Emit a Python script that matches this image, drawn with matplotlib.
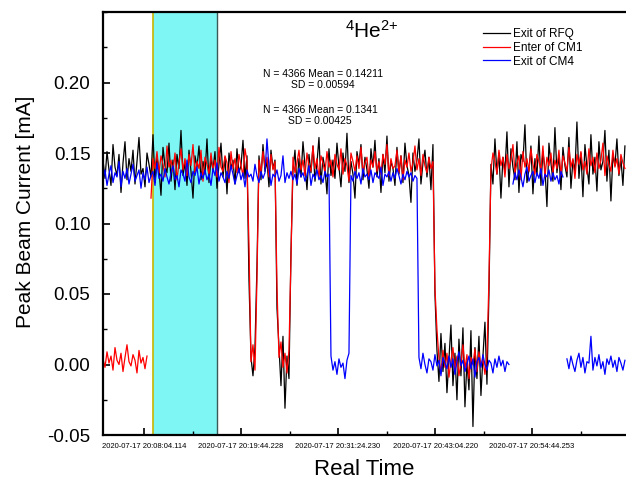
import numpy as np
import matplotlib
matplotlib.use("Agg")
import matplotlib.pyplot as plt
from matplotlib.ticker import MultipleLocator, FixedLocator

plt.rcParams['font.family'] = ['Liberation Sans', 'DejaVu Sans']

# time axis: seconds relative to 2020-07-17 20:08:04.114, one sample every dt seconds
t0 = -296.0
dt = 14.43
tick_times = [0, 700, 1400, 2100, 2800]
tick_labels = ["2020-07-17 20:08:04.114", "2020-07-17 20:19:44.228",
               "2020-07-17 20:31:24.230", "2020-07-17 20:43:04.220",
               "2020-07-17 20:54:44.253"]
window_start = 62.0     # shaded interval used for the statistics
window_end = 527.0

# peak beam current in uA (1e-3 mA), None = no reading
exit_rfq = [
    145, 132, 151, 138, 127, 156, 140, 134, 149, 122, 143, 158, 131, 146, 137, 152, 128, 144, 161, 135,
    139, 126, 150, 142, 133, 163, 129, 147, 138, 120, 154, 141, 136, 157, 130, 145, 124, 149, 139, 166,
    134, 143, 127, 152, 137, 118, 148, 140, 155, 131, 144, 135, 160, 129, 146, 138, 151, 125, 142, 157,
    133, 147, 121, 150, 139, 145, 128, 153, 136, 141, 159, 132, 148,
    60, 5, -8, 12, 70,
    148, 131, 156, 137, 144, 126, 152, 139, 145,
    40, 12, -15, 20, -31, 6, -10, 80,
    138, 152, 127, 146, 133, 158, 141, 124, 149, 136, 155, 130, 143, 161, 128, 147, 139, 121, 153, 134,
    145, 132, 157, 140, 126, 150, 137, 164, 129, 144, 135, 118, 151, 142, 156, 131, 147, 138, 125, 153,
    140, 159, 133, 146, 122, 149, 136, 162, 130, 144, 139, 127, 154, 135, 148, 129, 157, 141, 134, 115,
    150, 137, 145, 160, 128, 143, 152, 133, 147, 124, 156,
    50,
    10, -12, 22, -5, 15, -20, 4, 28, -15, 8, -25, 18, -8, 26, -30, 2, -18, 24, -44, 12, -10, 20, -22, 6, 30, -14,
    50,
    142, 128, 160, 135, 150, 118, 147, 137, 165, 126, 153, 140, 131, 158, 122, 149, 144, 170, 129, 138,
    155, 121, 146, 134, 162, 127, 151, 139, 112, 157, 143, 130, 168, 136, 148, 124, 154, 141, 133, 161,
    125, 145, 137, 172, 132, 150, 119, 156, 140, 128, 163, 135, 147, 123, 158, 138, 144, 166, 130, 152,
    116, 149, 141, 160, 134, 146, 127, 155,
]

enter_cm1 = [
    4, -2, 9, 1, 6, -4, 12, 3, 0, 8, -5, 5, 14, 2, -1, 7, 3, -6, 10, 1, 5, -3, 6,
    None,
    118, 146, 139, 151, 136, 148, 142, 133, 155, 140, 145, 137, 150, 131, 143, 153, 138, 146, 134, 149,
    141, 156, 136, 144, 139, 152, 130, 147, 142, 135, 150, 138, 145, 133, 154, 140, 137, 148, 143, 129,
    151, 139, 146, 136, 149, 141, 134, 153, 144,
    85, 2, 14, -4, 61,
    145, 136, 151, 140, 147, 133, 149, 138, 144,
    55, 5, 16, -2, 8, -6, 10, 75,
    147, 136, 143, 152, 138, 145, 134, 150, 141, 137, 155, 139, 146, 132, 148, 143, 136, 151, 140, 145,
    133, 149, 142, 138, 153, 135, 146, 141, 130, 150, 144, 137, 148, 139, 154, 136, 143, 147, 132, 145,
    140, 151, 137, 144, 135, 149, 142, 156, 134, 146, 139, 141, 152, 136, 148, 131, 145, 140, 150, 137,
    143, 155, 138, 146, 134, 149, 141, 136, 147, 139, 144,
    54,
    25, 4, -6, 10, -2, 8, -9, 3, 12, -4, 6, -8, 1, 14, -3, 7, -10, 5, 0, 11, -5, 9, -1, 4, -7, 6,
    60,
    138, 150, 144, 135, 152, 141, 147, 133, 149, 139, 145, 156, 136, 143, 148, 131, 151, 140, 146, 137,
    153, 142, 135, 149, 144, 138, 155, 133, 147, 141, 150, 136, 145, 139, 152, 134, 148, 143, 137, 154,
    140, 146, 132, 149, 142, 151, 138, 144, 135, 153, 141, 147, 136, 150, 139, 145, 157, 134, 148, 142,
    137, 152, 140, 146, 135, 149, 143, 139,
]

exit_cm4 = [
    131, 138, 127, 135, 141, 129, 136, 133, 144, 126, 137, 132, 139, 128, 135, 142, 130, 134, 138, 125,
    136, 131, 140, 129, 134, 137, 127, 143, 132, 135, 130, 139, 133, 128, 136, 141, 131, 134, 126, 138,
    135, 130, 145, 133, 129, 137, 134, 140, 128, 136, 132, 138, 131, 135, 127, 139, 134, 143, 130, 136,
    133, 129, 137, 132, 141, 135, 128, 134, 139, 131, 136, 126, 138, 133, 135, 130, 142, 134, 129, 137,
    132, 136, 160, 140, 127, 135, 133, 138, 130, 134, 148, 129, 136, 132, 137, 131, 135, 128, 139, 133,
    136, 130, 134, 141, 127, 135, 132, 138, 131, 134, 129, 137, 133, 135,
    6, -4, 2, -7, 4, -2, 1, -10, 3, 8,
    134, 130, 137, 132, 136, 128, 139, 133, 135, 131, 138, 129, 136, 134, 132, 140, 127, 135, 133, 137,
    130, 136, 132, 139, 134, 128, 135, 131, 137, 133, 136, 130, 134, 132,
    5, -3, 8, 0, -6, 4, 2, -4, 7, -1, 3, -8, 5, 1, -3, 6, -2, 4, -7, 2,
    9, -1, 3, -5, 0, 6, -3, 4, -9, 2, 5, -2, 7, 0, -4, 3, 1, -6, 4, -2,
    6, -1, 3, -5, 2, 0,
    None,
    128, 136, 131, 138, 133, 126, 135, 140, 130, 134, 137, 129, 136, 132, 139, 127, 135, 133, 138, 130,
    136, 131, 134, 128, 137, 133,
    None,
    4, -3, 6, 0, -5, 3, 8, -2, 5, -6, 2, 1, 20, -4, 5, -1, 7, -3, 2, -7, 4, 0, 6, -2, 3, -5, 5, 1, -4, 3,
]

series_names = ["Exit of RFQ", "Enter of CM1", "Exit of CM4"]
series_colors = ["black", "red", "blue"]


def to_ma(values):
    return np.array([np.nan if v is None else v for v in values], dtype=float) / 1000.0


fig = plt.figure(figsize=(6.26, 4.82), dpi=100)
ax = fig.add_axes([103 / 626, 47 / 482, 523 / 626, 423 / 482])

ax.axvspan(window_start, window_end, color='#7ef6f4', zorder=0, lw=0)
ax.axvline(window_start, color='#c8b400', lw=1.2, zorder=1)
ax.axvline(window_end, color='#3d5a5a', lw=1.0, zorder=1)

for vals, name, col in zip([exit_rfq, enter_cm1, exit_cm4], series_names, series_colors):
    y = to_ma(vals)
    x = t0 + dt * np.arange(len(y))
    ax.plot(x, y, color=col, lw=0.9, label=name, zorder=2)

ax.set_xlim(-296, 3478)
ax.set_ylim(-0.05, 0.25)

ax.yaxis.set_major_locator(FixedLocator([-0.05, 0.0, 0.05, 0.10, 0.15, 0.20]))
ax.yaxis.set_minor_locator(MultipleLocator(0.025))
ax.set_yticklabels(["-0.05", "0.00", "0.05", "0.10", "0.15", "0.20"])
ax.set_xticks(tick_times)
ax.set_xticklabels(tick_labels, fontsize=5.5)
ax.xaxis.set_minor_locator(FixedLocator([t + 350 for t in tick_times]))

ax.tick_params(axis='both', which='both', direction='in', top=False, right=False)
ax.tick_params(axis='y', which='major', length=5, width=1.2, labelsize=13.5, pad=9)
ax.tick_params(axis='y', which='minor', length=3, width=1.0)
ax.tick_params(axis='x', which='major', length=5, width=1.2, pad=6)
ax.tick_params(axis='x', which='minor', length=3, width=1.0)

for side in ['left', 'bottom', 'top']:
    ax.spines[side].set_linewidth(1.6)
ax.spines['right'].set_visible(False)

ax.set_ylabel("Peak Beam Current [mA]", fontsize=15)
ax.yaxis.set_label_coords(-0.13, 0.527)
ax.set_xlabel("Real Time", fontsize=16, labelpad=6)

ax.text(0.515, 0.955, r'$\mathregular{^{4}He^{2{+}}}$', transform=ax.transAxes,
        fontsize=15, ha='center', va='center')
ax.text(0.42, 0.84, "N = 4366 Mean = 0.14211\nSD = 0.00594", transform=ax.transAxes,
        fontsize=7.5, ha='center', va='center', multialignment='center')
ax.text(0.415, 0.755, "N = 4366 Mean = 0.1341\nSD = 0.00425", transform=ax.transAxes,
        fontsize=7.5, ha='center', va='center', multialignment='center')

ax.legend(loc='upper left', bbox_to_anchor=(0.727, 0.962), frameon=False, fontsize=8.5,
          handlelength=2.3, handletextpad=0.25, labelspacing=0.15,
          borderpad=0, borderaxespad=0)

fig.savefig("out.png", dpi=100)
